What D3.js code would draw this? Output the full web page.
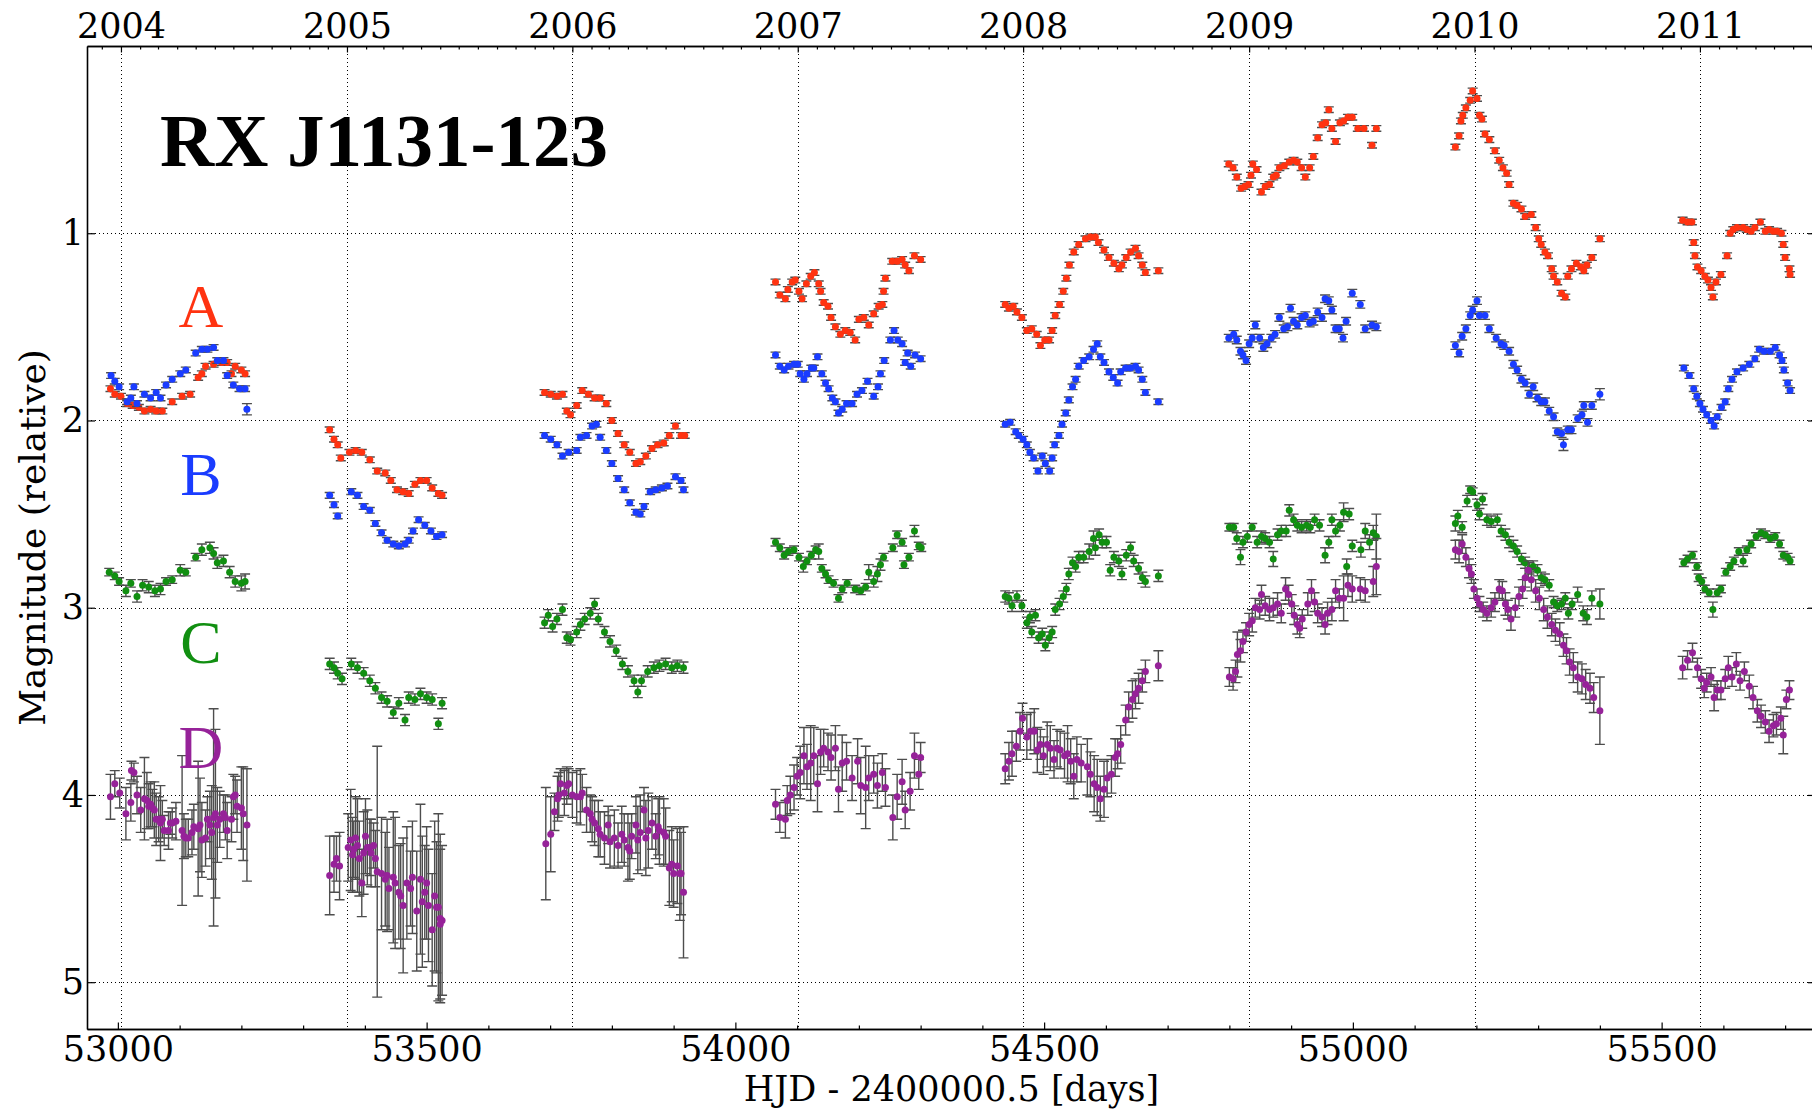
<!DOCTYPE html>
<html><head><meta charset="utf-8">
<script src="https://cdn.jsdelivr.net/npm/d3@7"></script>
<style>body{margin:0;background:#fff}svg{display:block}</style>
</head><body>
<svg id="chart" width="1812" height="1109"></svg>
<script>
// ---- DATA: [HJD-2400000.5, magnitude, error] ----
const seriesA = [
[52988,1.83,.015],[52995,1.86,.015],[53005,1.87,.015],[53015,1.91,.015],[53024,1.92,.015],[53034,1.93,.015],[53043,1.95,.015],[53053,1.94,.015],[53062,1.95,.015],[53072,1.95,.015],[53088,1.90,.015],[53104,1.87,.015],[53117,1.86,.015],[53130,1.77,.015],[53136,1.75,.015],[53142,1.71,.015],[53155,1.70,.015],[53168,1.69,.015],[53177,1.69,.015],[53184,1.75,.015],[53190,1.71,.015],[53200,1.73,.015],[53206,1.75,.015],
[53343,2.05,.015],[53350,2.10,.015],[53356,2.13,.015],[53361,2.20,.015],[53375,2.17,.015],[53385,2.16,.015],[53395,2.17,.015],[53408,2.21,.015],[53420,2.27,.015],[53433,2.28,.015],[53442,2.32,.015],[53452,2.37,.015],[53462,2.38,.015],[53471,2.39,.015],[53481,2.34,.015],[53490,2.32,.015],[53500,2.32,.015],[53509,2.36,.015],[53519,2.39,.015],[53525,2.40,.015],
[53691,1.85,.015],[53701,1.86,.015],[53711,1.87,.015],[53720,1.86,.015],[53727,1.95,.015],[53733,1.97,.015],[53743,1.92,.015],[53752,1.84,.015],[53762,1.86,.015],[53772,1.88,.015],[53781,1.88,.015],[53791,1.91,.015],[53800,2.00,.015],[53810,2.07,.015],[53820,2.13,.015],[53829,2.17,.015],[53839,2.23,.015],[53846,2.22,.015],[53855,2.19,.015],[53865,2.15,.015],[53874,2.13,.015],[53884,2.12,.015],[53893,2.08,.015],[53903,2.03,.015],[53912,2.08,.015],[53918,2.08,.015],
[54065,1.26,.015],[54072,1.33,.015],[54081,1.35,.015],[54085,1.30,.015],[54092,1.26,.015],[54097,1.25,.015],[54103,1.31,.015],[54108,1.35,.015],[54115,1.27,.015],[54122,1.23,.015],[54128,1.21,.015],[54135,1.27,.015],[54138,1.31,.015],[54143,1.37,.015],[54150,1.39,.015],[54155,1.45,.015],[54162,1.50,.015],[54170,1.54,.015],[54178,1.52,.015],[54186,1.53,.015],[54194,1.57,.015],[54200,1.46,.015],[54208,1.45,.015],[54216,1.49,.015],[54224,1.43,.015],[54232,1.39,.015],[54238,1.38,.015],[54240,1.31,.015],[54243,1.24,.015],[54254,1.15,.015],[54262,1.15,.015],[54270,1.14,.015],[54275,1.17,.015],[54281,1.20,.015],[54290,1.12,.015],[54300,1.14,.015],
[54437,1.38,.015],[54443,1.40,.015],[54450,1.39,.015],[54456,1.42,.015],[54464,1.45,.015],[54472,1.52,.015],[54480,1.51,.015],[54488,1.54,.015],[54494,1.60,.015],[54501,1.57,.015],[54508,1.57,.015],[54513,1.52,.015],[54518,1.44,.015],[54525,1.38,.015],[54531,1.31,.015],[54536,1.24,.015],[54541,1.17,.015],[54548,1.10,.015],[54556,1.06,.015],[54567,1.03,.015],[54575,1.02,.015],[54583,1.02,.015],[54588,1.05,.015],[54597,1.09,.015],[54605,1.13,.015],[54613,1.16,.015],[54621,1.19,.015],[54626,1.17,.015],[54633,1.13,.015],[54640,1.10,.015],[54648,1.08,.015],[54653,1.12,.015],[54659,1.17,.015],[54664,1.21,.015],[54685,1.20,.015],
[54799,0.63,.015],[54806,0.65,.015],[54812,0.70,.015],[54819,0.76,.015],[54825,0.75,.015],[54831,0.74,.015],[54835,0.69,.015],[54838,0.63,.015],[54844,0.66,.015],[54852,0.78,.015],[54858,0.75,.015],[54865,0.74,.015],[54871,0.70,.015],[54876,0.69,.015],[54881,0.65,.015],[54889,0.64,.015],[54897,0.62,.015],[54904,0.61,.015],[54910,0.62,.015],[54917,0.65,.015],[54923,0.70,.015],[54930,0.65,.015],[54936,0.59,.015],[54943,0.49,.015],[54950,0.42,.015],[54956,0.41,.015],[54961,0.34,.015],[54966,0.44,.015],[54972,0.51,.015],[54979,0.41,.015],[54985,0.40,.015],[54992,0.38,.015],[54999,0.38,.015],[55008,0.44,.015],[55018,0.44,.015],[55031,0.53,.015],[55038,0.44,.015],
[55166,0.54,.015],[55172,0.48,.015],[55175,0.40,.015],[55178,0.37,.015],[55183,0.33,.015],[55190,0.29,.015],[55194,0.24,.015],[55201,0.28,.015],[55205,0.37,.015],[55209,0.39,.015],[55214,0.47,.015],[55221,0.50,.015],[55230,0.56,.015],[55237,0.61,.015],[55243,0.65,.015],[55249,0.68,.015],[55253,0.74,.015],[55260,0.84,.015],[55266,0.85,.015],[55273,0.87,.015],[55279,0.91,.015],[55289,0.90,.015],[55296,0.97,.015],[55301,1.03,.015],[55305,1.06,.015],[55311,1.10,.015],[55316,1.12,.015],[55322,1.19,.015],[55325,1.23,.015],[55331,1.26,.015],[55338,1.32,.015],[55344,1.34,.015],[55348,1.23,.015],[55354,1.19,.015],[55362,1.16,.015],[55369,1.18,.015],[55374,1.20,.015],[55379,1.17,.015],[55387,1.13,.015],[55400,1.03,.015],
[55534,0.93,.015],[55542,0.94,.015],[55549,0.94,.015],[55552,1.05,.015],[55554,1.12,.015],[55558,1.18,.015],[55564,1.20,.015],[55570,1.23,.015],[55575,1.25,.015],[55580,1.29,.015],[55583,1.34,.015],[55588,1.26,.015],[55596,1.22,.015],[55606,1.12,.015],[55611,1.00,.015],[55616,0.98,.015],[55622,0.97,.015],[55632,0.97,.015],[55638,0.98,.015],[55645,0.99,.015],[55651,0.97,.015],[55660,0.94,.015],[55668,0.99,.015],[55674,0.98,.015],[55681,0.99,.015],[55687,0.99,.015],[55694,1.00,.015],[55697,1.06,.015],[55700,1.13,.015],[55707,1.19,.015],[55708,1.22,.015]
];
const seriesB = [
[52989,1.76,.015],[52995,1.79,.015],[53002,1.82,.015],[53015,1.90,.015],[53021,1.88,.015],[53026,1.82,.015],[53031,1.91,.015],[53043,1.86,.015],[53053,1.88,.015],[53062,1.85,.015],[53069,1.88,.015],[53078,1.81,.015],[53088,1.78,.015],[53101,1.75,.015],[53110,1.73,.015],[53126,1.64,.015],[53136,1.62,.015],[53145,1.62,.015],[53155,1.61,.015],[53161,1.68,.015],[53171,1.68,.015],[53177,1.76,.015],[53187,1.81,.015],[53197,1.83,.015],[53206,1.83,.015],[53209,1.94,.03],
[53343,2.40,.015],[53350,2.45,.015],[53356,2.51,.015],[53378,2.38,.015],[53388,2.40,.015],[53398,2.46,.015],[53408,2.48,.015],[53417,2.55,.015],[53427,2.60,.015],[53436,2.64,.015],[53446,2.66,.015],[53455,2.67,.015],[53465,2.66,.015],[53471,2.64,.015],[53478,2.59,.015],[53487,2.53,.015],[53497,2.56,.015],[53507,2.59,.015],[53516,2.62,.015],[53525,2.61,.015],
[53691,2.08,.015],[53701,2.10,.015],[53711,2.13,.015],[53720,2.19,.015],[53730,2.17,.015],[53743,2.16,.015],[53749,2.09,.015],[53759,2.08,.015],[53768,2.03,.015],[53775,2.02,.015],[53781,2.09,.015],[53791,2.16,.015],[53800,2.23,.015],[53810,2.31,.015],[53820,2.37,.015],[53829,2.44,.015],[53839,2.49,.015],[53846,2.50,.015],[53852,2.46,.015],[53862,2.38,.015],[53871,2.37,.015],[53881,2.36,.015],[53890,2.35,.015],[53903,2.30,.015],[53912,2.32,.015],[53916,2.37,.015],
[54065,1.65,.015],[54072,1.71,.015],[54079,1.73,.015],[54086,1.71,.015],[54095,1.70,.015],[54101,1.70,.015],[54105,1.75,.015],[54111,1.78,.015],[54116,1.75,.015],[54123,1.72,.015],[54127,1.72,.015],[54133,1.66,.015],[54140,1.75,.015],[54146,1.80,.015],[54151,1.83,.015],[54157,1.88,.015],[54162,1.90,.015],[54167,1.96,.015],[54173,1.94,.015],[54180,1.91,.015],[54189,1.91,.015],[54197,1.86,.015],[54205,1.84,.015],[54214,1.79,.015],[54224,1.87,.015],[54231,1.82,.015],[54235,1.75,.015],[54241,1.68,.015],[54251,1.57,.015],[54257,1.52,.015],[54263,1.57,.015],[54270,1.59,.015],[54275,1.69,.015],[54279,1.64,.015],[54284,1.71,.015],[54291,1.65,.015],[54300,1.67,.015],
[54437,2.02,.015],[54445,2.01,.015],[54454,2.06,.015],[54459,2.08,.015],[54466,2.10,.015],[54472,2.13,.015],[54477,2.17,.015],[54483,2.20,.015],[54490,2.27,.015],[54497,2.19,.015],[54502,2.23,.015],[54509,2.27,.015],[54513,2.20,.015],[54517,2.13,.015],[54524,2.08,.015],[54529,2.02,.015],[54535,1.96,.015],[54540,1.89,.015],[54546,1.82,.015],[54551,1.78,.015],[54556,1.71,.015],[54564,1.68,.015],[54573,1.66,.015],[54580,1.62,.015],[54586,1.59,.015],[54591,1.66,.015],[54597,1.69,.015],[54605,1.74,.015],[54612,1.77,.015],[54619,1.80,.015],[54624,1.74,.015],[54632,1.72,.015],[54640,1.72,.015],[54648,1.71,.015],[54653,1.73,.015],[54659,1.78,.015],[54664,1.85,.015],[54685,1.90,.015],
[54799,1.56,.02],[54807,1.54,.02],[54812,1.57,.02],[54818,1.63,.02],[54822,1.65,.02],[54827,1.68,.02],[54832,1.59,.02],[54837,1.56,.02],[54842,1.49,.02],[54849,1.56,.02],[54855,1.61,.02],[54861,1.59,.02],[54868,1.56,.02],[54874,1.54,.02],[54881,1.45,.02],[54888,1.51,.02],[54894,1.50,.02],[54899,1.40,.02],[54904,1.47,.02],[54910,1.49,.02],[54917,1.45,.02],[54923,1.44,.02],[54930,1.48,.02],[54936,1.47,.02],[54943,1.42,.02],[54950,1.45,.02],[54955,1.35,.02],[54961,1.36,.02],[54966,1.41,.02],[54972,1.51,.02],[54978,1.51,.02],[54984,1.56,.02],[54989,1.47,.02],[54999,1.32,.02],[55012,1.38,.02],[55020,1.51,.02],[55031,1.49,.02],[55038,1.50,.02],
[55166,1.60,.02],[55172,1.64,.02],[55177,1.55,.02],[55183,1.51,.02],[55190,1.44,.02],[55194,1.41,.02],[55201,1.36,.02],[55205,1.44,.02],[55214,1.44,.02],[55221,1.51,.02],[55232,1.56,.02],[55240,1.59,.02],[55245,1.60,.02],[55253,1.63,.02],[55260,1.70,.02],[55266,1.73,.02],[55273,1.78,.02],[55279,1.80,.02],[55286,1.86,.02],[55292,1.82,.02],[55299,1.88,.02],[55305,1.90,.02],[55311,1.90,.02],[55318,1.95,.02],[55325,1.98,.02],[55331,2.06,.02],[55338,2.07,.02],[55341,2.13,.03],[55348,2.05,.02],[55354,2.05,.02],[55364,1.99,.02],[55371,1.97,.02],[55374,1.92,.02],[55380,2.01,.02],[55387,1.92,.02],[55400,1.86,.03],
[55536,1.72,.015],[55545,1.76,.015],[55552,1.83,.015],[55557,1.87,.015],[55562,1.91,.015],[55567,1.94,.015],[55573,1.97,.015],[55580,2.00,.015],[55585,2.03,.015],[55590,1.98,.015],[55597,1.93,.015],[55603,1.90,.015],[55608,1.83,.015],[55614,1.78,.015],[55622,1.74,.015],[55632,1.72,.015],[55642,1.70,.015],[55651,1.67,.015],[55658,1.62,.015],[55666,1.63,.015],[55676,1.63,.015],[55684,1.61,.015],[55691,1.65,.015],[55695,1.68,.015],[55698,1.73,.015],[55704,1.80,.015],[55708,1.84,.015]
];
const seriesC = [
[52986,2.81,.02],[52995,2.83,.02],[53002,2.86,.02],[53013,2.91,.03],[53021,2.87,.02],[53031,2.94,.03],[53040,2.88,.03],[53050,2.89,.03],[53060,2.91,.03],[53069,2.90,.03],[53078,2.86,.02],[53088,2.85,.02],[53101,2.80,.03],[53110,2.81,.02],[53126,2.73,.02],[53136,2.69,.03],[53149,2.68,.03],[53155,2.71,.03],[53161,2.76,.03],[53171,2.75,.03],[53181,2.81,.03],[53190,2.86,.03],[53200,2.87,.04],[53206,2.86,.04],
[53343,3.30,.03],[53350,3.32,.03],[53356,3.35,.03],[53363,3.38,.03],[53378,3.30,.03],[53388,3.32,.03],[53398,3.35,.03],[53408,3.39,.03],[53417,3.43,.03],[53427,3.48,.03],[53436,3.50,.03],[53446,3.56,.03],[53455,3.51,.03],[53465,3.60,.03],[53471,3.48,.03],[53481,3.49,.03],[53490,3.46,.03],[53500,3.48,.03],[53509,3.49,.03],[53519,3.62,.03],[53525,3.51,.03],
[53691,3.08,.03],[53697,3.04,.03],[53704,3.10,.03],[53711,3.06,.03],[53720,3.01,.03],[53727,3.16,.03],[53733,3.17,.03],[53743,3.13,.03],[53749,3.09,.03],[53756,3.06,.03],[53765,3.03,.03],[53772,2.98,.03],[53778,3.06,.03],[53788,3.13,.03],[53797,3.18,.03],[53807,3.23,.03],[53817,3.30,.03],[53826,3.34,.03],[53836,3.39,.03],[53842,3.45,.03],[53848,3.39,.03],[53858,3.34,.03],[53868,3.32,.03],[53877,3.31,.03],[53887,3.30,.03],[53897,3.32,.03],[53906,3.31,.03],[53916,3.32,.03],
[54065,2.65,.02],[54072,2.68,.02],[54079,2.72,.02],[54086,2.70,.02],[54095,2.69,.02],[54103,2.73,.02],[54110,2.78,.03],[54116,2.75,.02],[54123,2.72,.02],[54130,2.69,.02],[54135,2.70,.04],[54140,2.79,.02],[54146,2.82,.02],[54151,2.85,.02],[54159,2.87,.02],[54167,2.95,.02],[54173,2.90,.02],[54181,2.87,.02],[54194,2.90,.02],[54203,2.91,.02],[54211,2.89,.02],[54216,2.81,.04],[54224,2.86,.03],[54230,2.82,.04],[54235,2.77,.03],[54240,2.73,.02],[54255,2.68,.02],[54262,2.61,.02],[54270,2.65,.02],[54273,2.77,.02],[54281,2.73,.02],[54290,2.59,.03],[54297,2.67,.02],[54301,2.68,.02],
[54437,2.94,.03],[54443,2.95,.03],[54448,2.99,.03],[54456,2.94,.03],[54464,2.99,.03],[54472,3.08,.03],[54477,3.05,.03],[54480,3.13,.03],[54486,3.04,.03],[54491,3.16,.03],[54497,3.14,.03],[54502,3.20,.03],[54508,3.16,.03],[54513,3.13,.03],[54518,3.01,.03],[54525,2.98,.03],[54531,2.94,.03],[54536,2.90,.03],[54540,2.82,.03],[54546,2.76,.03],[54551,2.78,.03],[54556,2.73,.03],[54564,2.73,.03],[54573,2.70,.04],[54580,2.63,.04],[54583,2.68,.04],[54589,2.61,.03],[54594,2.65,.03],[54601,2.65,.03],[54607,2.80,.03],[54613,2.73,.03],[54621,2.75,.03],[54626,2.82,.03],[54633,2.72,.03],[54640,2.68,.03],[54645,2.75,.03],[54653,2.79,.03],[54659,2.84,.03],[54664,2.86,.03],[54685,2.83,.03],
[54800,2.57,.02],[54807,2.57,.02],[54812,2.63,.03],[54818,2.73,.04],[54822,2.65,.03],[54829,2.62,.03],[54837,2.57,.02],[54845,2.65,.03],[54852,2.62,.03],[54858,2.63,.03],[54865,2.65,.03],[54871,2.74,.04],[54878,2.61,.03],[54884,2.59,.03],[54892,2.59,.03],[54897,2.48,.03],[54904,2.53,.03],[54910,2.56,.03],[54917,2.57,.03],[54925,2.56,.03],[54931,2.57,.03],[54938,2.53,.03],[54946,2.56,.03],[54955,2.72,.04],[54961,2.65,.03],[54966,2.53,.03],[54972,2.59,.03],[54979,2.56,.03],[54985,2.49,.05],[54990,2.78,.04],[54994,2.50,.03],[54999,2.67,.03],[55013,2.69,.04],[55020,2.59,.04],[55027,2.65,.04],[55033,2.60,.04],[55038,2.62,.12],
[55166,2.55,.04],[55170,2.51,.03],[55177,2.57,.03],[55185,2.43,.03],[55190,2.37,.02],[55194,2.38,.02],[55201,2.45,.03],[55205,2.50,.03],[55210,2.42,.03],[55217,2.53,.03],[55224,2.54,.03],[55234,2.53,.03],[55240,2.59,.03],[55247,2.61,.03],[55253,2.65,.03],[55260,2.67,.03],[55266,2.70,.03],[55273,2.74,.03],[55279,2.76,.03],[55286,2.79,.03],[55292,2.78,.03],[55299,2.80,.03],[55305,2.84,.03],[55311,2.85,.03],[55318,2.88,.03],[55325,2.97,.03],[55331,2.99,.03],[55338,2.98,.03],[55344,2.95,.03],[55349,3.03,.03],[55355,2.98,.03],[55364,2.93,.04],[55373,3.03,.04],[55379,3.05,.04],[55387,2.95,.04],[55400,2.98,.08],
[55536,2.76,.02],[55542,2.74,.02],[55550,2.72,.02],[55557,2.78,.02],[55560,2.84,.02],[55565,2.86,.02],[55570,2.90,.02],[55577,2.92,.02],[55583,3.01,.04],[55590,2.92,.02],[55596,2.90,.02],[55604,2.81,.02],[55611,2.78,.02],[55617,2.75,.02],[55625,2.70,.02],[55632,2.75,.03],[55638,2.69,.02],[55645,2.66,.02],[55653,2.62,.02],[55661,2.60,.02],[55668,2.61,.02],[55676,2.63,.02],[55684,2.62,.02],[55691,2.66,.02],[55697,2.72,.02],[55704,2.73,.02],[55708,2.75,.02]
];
const seriesD = [
[52988,4.01,.12],[52995,3.94,.07],[53003,3.99,.08],[53013,4.10,.14],[53021,4.04,.10],[53026,3.88,.05],[53031,4.00,.10],[53037,4.08,.12],[53043,4.02,.22],[53050,4.06,.12],[53056,4.07,.10],[53062,4.13,.14],[53069,4.15,.20],[53075,4.19,.08],[53085,4.15,.06],[53094,4.14,.10],[53104,4.19,.40],[53110,4.23,.10],[53120,4.20,.12],[53130,4.18,.36],[53136,4.24,.20],[53145,4.13,.12],[53152,4.20,.25],[53155,4.12,.58],[53161,4.16,.20],[53171,4.10,.10],[53177,4.19,.15],[53184,4.13,.12],[53190,4.00,.10],[53200,4.07,.22],[53209,4.16,.30],
[53022,3.87,.05],[53047,4.03,.15],[53053,4.05,.12],[53059,4.08,.15],[53066,4.13,.12],[53072,4.13,.10],[53082,4.19,.10],[53088,4.15,.08],[53107,4.22,.12],[53114,4.23,.10],[53123,4.17,.12],[53133,4.16,.25],[53142,4.23,.15],[53149,4.16,.18],[53158,4.10,.45],[53165,4.13,.15],[53174,4.12,.12],[53187,4.01,.12],[53193,4.06,.14],[53203,4.10,.25],
[53343,4.43,.21],[53350,4.37,.15],[53354,4.34,.12],[53359,4.38,.18],[53377,4.24,.27],[53382,4.29,.15],[53388,4.27,.25],[53395,4.47,.18],[53401,4.22,.20],[53408,4.28,.15],[53414,4.27,.12],[53420,4.41,.67],[53427,4.42,.30],[53433,4.45,.25],[53439,4.50,.22],[53446,4.44,.35],[53455,4.52,.25],[53462,4.59,.36],[53468,4.47,.30],[53474,4.50,.20],[53484,4.62,.32],[53490,4.45,.40],[53497,4.52,.25],[53503,4.59,.30],[53509,4.72,.30],[53516,4.60,.35],[53522,4.66,.45],[53525,4.67,.40],
[53373,4.28,.18],[53380,4.32,.20],[53385,4.23,.22],[53391,4.34,.20],[53398,4.31,.22],[53404,4.28,.20],[53410,4.31,.18],[53417,4.34,.15],[53436,4.43,.30],[53449,4.47,.35],[53458,4.54,.28],[53477,4.44,.30],[53493,4.57,.35],[53500,4.47,.30],[53513,4.54,.40],[53519,4.60,.50],[53522,4.69,.40],
[53693,4.26,.30],[53701,4.21,.20],[53707,4.09,.10],[53712,4.02,.12],[53717,3.94,.08],[53723,3.99,.12],[53730,3.94,.08],[53736,4.00,.12],[53743,4.01,.14],[53752,3.99,.10],[53759,4.08,.12],[53765,4.10,.10],[53772,4.15,.12],[53781,4.21,.12],[53788,4.23,.14],[53794,4.16,.10],[53804,4.23,.15],[53810,4.27,.12],[53820,4.24,.14],[53826,4.28,.18],[53832,4.22,.12],[53839,4.16,.15],[53846,4.20,.20],[53852,4.08,.12],[53859,4.19,.20],[53865,4.15,.14],[53871,4.22,.12],[53877,4.19,.18],[53887,4.22,.15],[53893,4.39,.20],[53900,4.42,.18],[53906,4.38,.20],[53912,4.42,.22],[53916,4.52,.35],
[53714,4.00,.12],[53727,3.95,.10],[53749,4.01,.15],[53768,4.13,.12],[53778,4.18,.15],[53797,4.25,.14],[53816,4.21,.15],[53829,4.30,.15],[53842,4.24,.18],[53855,4.23,.20],[53875,4.17,.15],[53884,4.20,.18],[53897,4.37,.20],[53910,4.42,.25],
[54065,4.05,.08],[54072,4.12,.08],[54081,4.13,.10],[54084,4.03,.08],[54089,4.00,.10],[54095,3.96,.12],[54100,3.90,.10],[54105,3.88,.14],[54111,3.79,.15],[54116,3.85,.12],[54122,3.83,.20],[54127,3.79,.15],[54133,3.94,.15],[54138,3.77,.12],[54143,3.75,.10],[54150,3.77,.10],[54155,3.80,.12],[54162,3.75,.12],[54167,3.97,.12],[54173,3.83,.15],[54180,3.82,.10],[54189,3.91,.12],[54198,3.82,.12],[54203,3.95,.15],[54211,3.96,.22],[54216,3.91,.12],[54224,3.89,.10],[54230,3.95,.12],[54238,3.88,.10],[54243,3.96,.10],[54255,4.12,.12],[54262,4.01,.12],[54270,3.93,.12],[54275,4.08,.10],[54283,3.98,.10],[54290,3.79,.12],[54297,3.89,.08],[54300,3.80,.08],
[54437,3.86,.08],[54443,3.82,.10],[54448,3.78,.12],[54455,3.74,.08],[54461,3.66,.10],[54465,3.59,.08],[54472,3.69,.12],[54478,3.66,.10],[54484,3.66,.12],[54489,3.76,.12],[54494,3.73,.08],[54499,3.79,.10],[54505,3.73,.12],[54510,3.75,.12],[54516,3.81,.10],[54521,3.75,.10],[54526,3.76,.10],[54533,3.79,.12],[54538,3.78,.15],[54543,3.82,.12],[54548,3.90,.12],[54553,3.81,.12],[54560,3.83,.10],[54570,3.85,.15],[54575,3.89,.12],[54581,3.94,.15],[54586,3.96,.15],[54591,4.02,.12],[54597,3.97,.15],[54602,3.91,.10],[54609,3.89,.10],[54615,3.80,.10],[54619,3.78,.08],[54624,3.73,.10],[54632,3.60,.08],[54637,3.53,.08],[54643,3.49,.10],[54648,3.46,.08],[54653,3.43,.08],[54659,3.39,.06],[54664,3.34,.06],[54685,3.31,.08],
[54800,3.37,.05],[54806,3.38,.06],[54810,3.34,.06],[54813,3.25,.12],[54818,3.23,.06],[54822,3.18,.06],[54827,3.13,.05],[54832,3.09,.06],[54837,3.07,.06],[54842,3.00,.05],[54849,3.01,.05],[54852,2.93,.05],[54858,2.99,.05],[54865,3.01,.06],[54871,3.00,.05],[54878,2.98,.06],[54884,3.03,.05],[54891,2.90,.06],[54896,2.93,.05],[54901,2.98,.05],[54905,3.04,.05],[54910,3.09,.05],[54914,3.11,.05],[54918,3.06,.05],[54927,2.98,.06],[54933,2.91,.06],[54938,2.97,.05],[54943,3.03,.05],[54950,3.05,.05],[54955,3.09,.05],[54959,3.03,.06],[54966,3.01,.06],[54972,2.91,.06],[54978,2.95,.05],[54985,2.95,.12],[54992,2.88,.06],[54999,2.90,.07],[55012,2.90,.06],[55020,2.91,.06],[55033,2.86,.08],[55038,2.78,.15],
[55166,2.69,.05],[55172,2.70,.06],[55177,2.66,.05],[55183,2.73,.05],[55188,2.79,.05],[55192,2.82,.05],[55196,2.90,.05],[55201,2.95,.05],[55205,2.98,.04],[55211,3.01,.04],[55217,3.03,.04],[55224,3.00,.05],[55230,2.97,.05],[55237,2.90,.05],[55242,2.91,.05],[55247,2.98,.06],[55251,3.01,.05],[55256,3.06,.06],[55263,3.00,.05],[55269,2.94,.05],[55275,2.90,.05],[55279,2.84,.05],[55284,2.80,.05],[55289,2.85,.06],[55296,2.91,.06],[55302,2.95,.06],[55309,3.01,.06],[55315,3.05,.06],[55322,3.09,.06],[55328,3.12,.06],[55335,3.14,.06],[55341,3.20,.06],[55346,3.23,.07],[55351,3.29,.07],[55357,3.32,.08],[55364,3.37,.08],[55371,3.38,.08],[55377,3.41,.08],[55384,3.43,.08],[55390,3.48,.08],[55400,3.55,.18],
[55534,3.32,.06],[55542,3.28,.05],[55550,3.24,.05],[55558,3.32,.05],[55564,3.38,.05],[55569,3.43,.05],[55573,3.40,.05],[55580,3.37,.05],[55585,3.48,.07],[55590,3.44,.05],[55596,3.44,.05],[55603,3.38,.05],[55608,3.32,.06],[55614,3.37,.05],[55621,3.30,.06],[55627,3.39,.05],[55634,3.34,.05],[55642,3.42,.06],[55648,3.48,.06],[55655,3.55,.06],[55661,3.58,.06],[55668,3.61,.06],[55674,3.66,.06],[55681,3.63,.06],[55686,3.62,.06],[55693,3.59,.06],[55697,3.68,.10],[55702,3.49,.05],[55707,3.44,.05]
];
const imageNames = ["A", "B", "C", "D"];
const imageColors = ["#ff3311", "#1a3cff", "#118f11", "#962299"];
const bottomTicks = [53000, 53500, 54000, 54500, 55000, 55500];
const yearLabels = ["2004", "2005", "2006", "2007", "2008", "2009", "2010", "2011"];
const yearMJD = [53005, 53371, 53736, 54101, 54466, 54832, 55197, 55562];
const yTicks = [1, 2, 3, 4, 5];
const titleText = "RX J1131-123";
const xLabel = "HJD - 2400000.5 [days]";
const yLabel = "Magnitude (relative)";

// ---- CHART ----
const svg = d3.select("#chart");
const W = 1812, H = 1109;
const L = 87, R = 1816, T = 46, B = 1029;
const x = d3.scaleLinear().domain([52950, 55750]).range([L, R]);
const y = d3.scaleLinear().domain([0, 5.25]).range([T, B]);
const tickFont = "'DejaVu Serif', serif";
const FS = 35;

svg.append("rect").attr("width", W).attr("height", H).attr("fill", "#fff");

const clip = svg.append("defs").append("clipPath").attr("id", "plotclip");
clip.append("rect").attr("x", L).attr("y", T).attr("width", R - L).attr("height", B - T);

// grid
const grid = svg.append("g").attr("stroke", "#000").attr("stroke-width", 1).attr("stroke-dasharray", "1,3");
grid.selectAll("line.h").data(yTicks).join("line").attr("class", "h")
  .attr("x1", L).attr("x2", R).attr("y1", d => Math.round(y(d)) + 0.5).attr("y2", d => Math.round(y(d)) + 0.5);
grid.selectAll("line.v").data(yearMJD).join("line").attr("class", "v")
  .attr("y1", T).attr("y2", B).attr("x1", d => Math.round(x(d)) + 0.5).attr("x2", d => Math.round(x(d)) + 0.5);

// data
const plot = svg.append("g").attr("clip-path", "url(#plotclip)");
const allSeries = [seriesA, seriesB, seriesC, seriesD];
allSeries.forEach((s, i) => {
  const g = plot.append("g");
  const eb = g.append("g").attr("stroke", "#4d4d4d").attr("stroke-width", 1.4).attr("fill", "none");
  eb.selectAll("path").data(s).join("path")
    .attr("d", d => {
      const xx = x(d[0]), y1 = y(d[1] - d[2]), y2 = y(d[1] + d[2]);
      return `M${xx},${y1}L${xx},${y2}M${xx - 5},${y1}L${xx + 5},${y1}M${xx - 5},${y2}L${xx + 5},${y2}`;
    });
  g.append("g").attr("fill", imageColors[i]).selectAll("circle").data(s).join("circle")
    .attr("cx", d => x(d[0])).attr("cy", d => y(d[1])).attr("r", 3.5);
});

// axes
function styleAxis(g) {
  g.select(".domain").attr("stroke", "#000").attr("stroke-width", 1.6);
  g.selectAll(".tick line").attr("stroke", "#000").attr("stroke-width", 1.2);
  g.selectAll("text").attr("font-family", tickFont).attr("font-size", FS).attr("fill", "#000");
}
// bottom
svg.append("g").attr("transform", `translate(0,${B})`)
  .call(d3.axisBottom(x).tickValues(d3.range(52900, 55800, 100).filter(v => v > 52950 && v < 55750 && v % 500 !== 0)).tickSize(-3.5).tickSizeOuter(0).tickFormat(""))
  .call(styleAxis);
svg.append("g").attr("transform", `translate(0,${B})`)
  .call(d3.axisBottom(x).tickValues(bottomTicks).tickSize(-6.5).tickSizeOuter(0).tickPadding(7).tickFormat(d3.format("d")))
  .call(styleAxis);
// top (years, monthly minor ticks)
const monthTicks = [];
for (let yr = 2003; yr <= 2011; yr++) for (let m = 1; m < 12; m++) {
  const mjd = (Date.UTC(yr, m, 1) / 86400000) + 40587;
  if (mjd > 52950 && mjd < 55750) monthTicks.push(mjd);
}
svg.append("g").attr("transform", `translate(0,${T})`)
  .call(d3.axisTop(x).tickValues(monthTicks).tickSize(-3.5).tickSizeOuter(0).tickFormat(""))
  .call(styleAxis);
svg.append("g").attr("transform", `translate(0,${T})`)
  .call(d3.axisTop(x).tickValues(yearMJD).tickSize(-6.5).tickSizeOuter(0).tickPadding(8).tickFormat((d, i) => yearLabels[i]))
  .call(styleAxis);
// left
svg.append("g").attr("transform", `translate(${L},0)`)
  .call(d3.axisLeft(y).tickValues(yTicks).tickSize(-8).tickSizeOuter(0).tickPadding(3).tickFormat(d3.format("d")))
  .call(styleAxis);
// right
svg.append("g").attr("transform", `translate(${R},0)`)
  .call(d3.axisRight(y).tickValues(yTicks).tickSize(-8).tickSizeOuter(0).tickFormat(""))
  .call(styleAxis);

// axis labels
svg.append("text").attr("x", (L + R) / 2).attr("y", 1101).attr("text-anchor", "middle")
  .attr("font-family", tickFont).attr("font-size", FS).text(xLabel);
svg.append("text").attr("transform", `translate(45,${(T + B) / 2}) rotate(-90)`).attr("text-anchor", "middle")
  .attr("font-family", tickFont).attr("font-size", FS + 1).text(yLabel);

// title
svg.append("text").attr("x", 160).attr("y", 166).attr("font-family", "'Liberation Serif', 'Times New Roman', serif")
  .attr("font-weight", "bold").attr("font-size", 75).attr("fill", "#000").text(titleText);

// image labels
const labelBaselines = [327, 495, 663, 768];
imageNames.forEach((n, i) => {
  svg.append("text").attr("x", 201).attr("y", labelBaselines[i]).attr("text-anchor", "middle")
    .attr("font-family", "'Liberation Serif', 'Times New Roman', serif").attr("font-size", 62)
    .attr("fill", imageColors[i]).text(n);
});
</script>
</body></html>
